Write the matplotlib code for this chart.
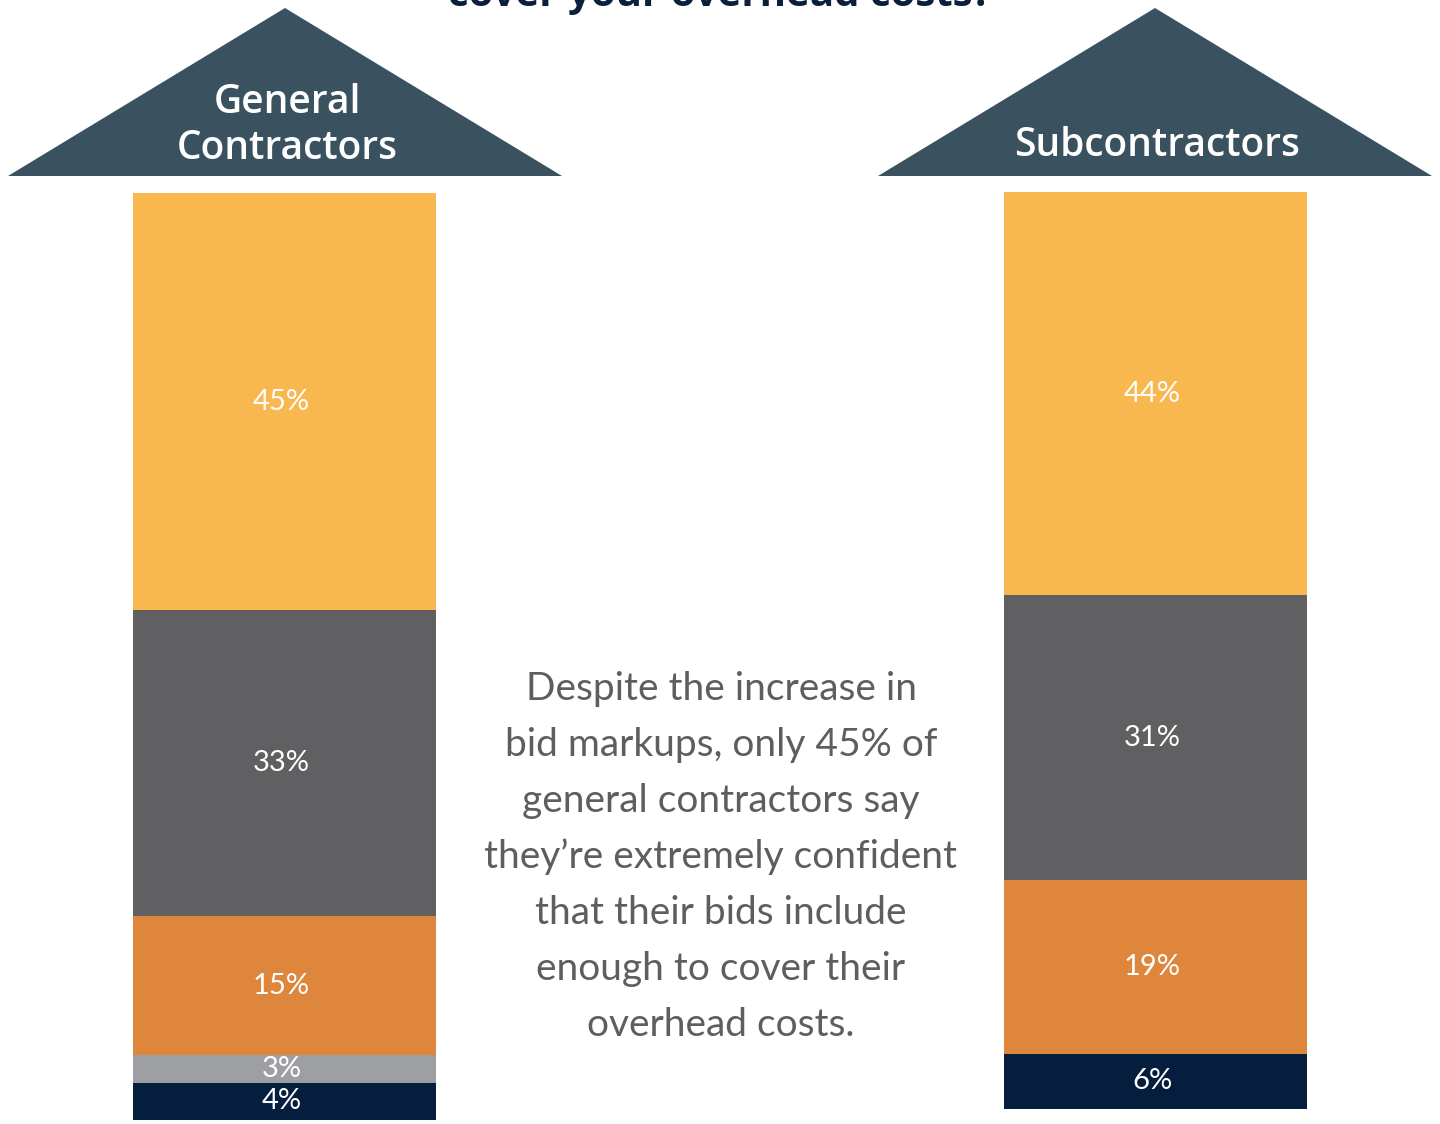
import matplotlib.pyplot as plt
from matplotlib.patches import Polygon

# ---- data ----
groups = ["General\nContractors", "Subcontractors"]
gc_values = [45, 33, 15, 3, 4]          # top to bottom
sub_values = [44, 31, 19, 6]            # top to bottom
gc_colors = ["#F9B750", "#606062", "#DE873C", "#9D9FA2", "#061E3E"]
sub_colors = ["#F9B750", "#606062", "#DE873C", "#061E3E"]
title = "cover your overhead costs?"
blurb = [
    "Despite the increase in",
    "bid markups, only 45% of",
    "general contractors say",
    "they\u2019re extremely confident",
    "that their bids include",
    "enough to cover their",
    "overhead costs.",
]

W, H = 1440, 1124
ROOF = "#3A5260"

fig = plt.figure(figsize=(W / 100, H / 100), dpi=100)
fig.patch.set_facecolor("white")

# overlay axes in pixel coordinates for roofs and text
ov = fig.add_axes([0, 0, 1, 1])
ov.set_xlim(0, W)
ov.set_ylim(H, 0)
ov.axis("off")
ov.set_zorder(3)


def bar_axes(left, top, width, height):
    ax = fig.add_axes([left / W, 1 - (top + height) / H, width / W, height / H])
    ax.set_xlim(-0.5, 0.5)
    ax.set_ylim(0, 100)
    ax.axis("off")
    return ax


def stacked(ax, values, colors):
    bottom = 0
    for v, c in zip(values[::-1], colors[::-1]):
        ax.bar(0, v, bottom=bottom, width=1, color=c, edgecolor="none")
        ax.text(-0.01, bottom + v / 2, f"{v}%", ha="center", va="center",
                color="white", fontsize=21, family="Lato")
        bottom += v


ax_gc = bar_axes(133, 193, 303, 927)
stacked(ax_gc, gc_values, gc_colors)
ax_sub = bar_axes(1004, 192, 303, 917)
stacked(ax_sub, sub_values, sub_colors)

# roofs
for cx, label, ty in [(285, groups[0], 126), (1155, groups[1], 146)]:
    ov.add_patch(Polygon([(cx - 277, 176), (cx, 8), (cx + 277, 176)],
                         closed=True, color=ROOF, lw=0))
    ov.text(cx + 2, ty, label, ha="center", va="center", color="white",
            fontsize=28, family="Open Sans", fontweight="semibold",
            linespacing=1.2)

# clipped title at the very top
ov.text(720, 6, title, ha="center", va="baseline", color="#0A1F3C",
        fontsize=29, family="Open Sans", fontweight="bold")

# central blurb
for i, line in enumerate(blurb):
    ov.text(721, 689 + i * 56, line, ha="center", va="center",
            color="#5E5E60", fontsize=28, family="Lato")

fig.savefig("out.png", dpi=100, facecolor=fig.get_facecolor())
